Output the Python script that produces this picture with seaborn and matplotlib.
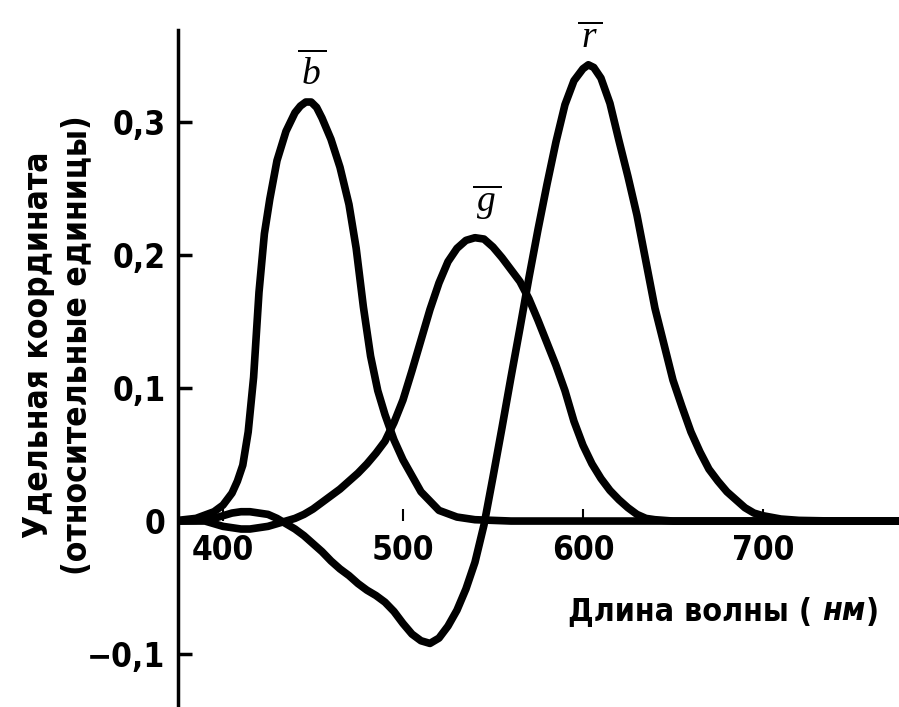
import numpy as np
import pandas as pd
import matplotlib
matplotlib.use('Agg')
import matplotlib.pyplot as plt
import seaborn as sns
from matplotlib.offsetbox import TextArea, HPacker, AnchoredOffsetbox

# values (wavelength in nm, relative units)
b_wl = [375, 385, 395, 400, 405, 408, 411, 414, 417, 420, 423, 426, 430, 435, 440, 443,
        446, 449, 452, 455, 460, 465, 470, 474, 478, 482, 486, 490, 495, 500, 505, 510,
        520, 530, 540, 560, 600, 700, 780]
b_val = [0.0005, 0.002, 0.007, 0.012, 0.021, 0.030, 0.042, 0.067, 0.108, 0.172, 0.216,
         0.242, 0.271, 0.293, 0.307, 0.312, 0.315, 0.315, 0.311, 0.303, 0.287, 0.266,
         0.238, 0.205, 0.161, 0.124, 0.098, 0.080, 0.061, 0.046, 0.034, 0.022, 0.008,
         0.003, 0.001, 0.0, 0.0, 0.0, 0.0]

g_wl = [375, 390, 395, 400, 405, 410, 415, 420, 425, 430, 435, 440, 445, 450, 455, 460,
        465, 470, 475, 480, 485, 490, 495, 500, 505, 510, 515, 520, 525, 530, 535, 540,
        545, 550, 555, 560, 565, 570, 575, 580, 585, 590, 595, 600, 605, 610, 615, 620,
        625, 630, 635, 640, 650, 700, 780]
g_val = [0.0, 0.0, -0.002, -0.004, -0.005, -0.006, -0.006, -0.005, -0.004, -0.002, 0.0,
         0.002, 0.005, 0.009, 0.014, 0.019, 0.024, 0.030, 0.036, 0.043, 0.051, 0.060,
         0.074, 0.091, 0.113, 0.136, 0.159, 0.179, 0.195, 0.205, 0.211, 0.213, 0.212,
         0.206, 0.198, 0.189, 0.180, 0.167, 0.151, 0.134, 0.117, 0.098, 0.075, 0.057,
         0.043, 0.032, 0.023, 0.016, 0.010, 0.005, 0.002, 0.001, 0.0, 0.0, 0.0]

r_wl = [375, 385, 395, 400, 405, 410, 415, 420, 425, 430, 435, 440, 445, 450, 455, 460,
        465, 470, 475, 480, 485, 490, 495, 500, 505, 510, 515, 520, 525, 530, 535, 540,
        545, 550, 555, 560, 565, 570, 575, 580, 585, 590, 595, 600, 603, 606, 610, 615,
        620, 625, 630, 635, 640, 645, 650, 655, 660, 665, 670, 675, 680, 685, 690, 695,
        700, 710, 720, 740, 780]
r_val = [0.0, 0.0005, 0.002, 0.004, 0.006, 0.007, 0.007, 0.006, 0.005, 0.002, -0.002,
         -0.006, -0.011, -0.017, -0.023, -0.030, -0.036, -0.041, -0.047, -0.052, -0.056,
         -0.061, -0.068, -0.077, -0.085, -0.090, -0.092, -0.088, -0.079, -0.067, -0.051,
         -0.031, -0.003, 0.033, 0.070, 0.108, 0.145, 0.183, 0.219, 0.253, 0.285, 0.313,
         0.331, 0.340, 0.343, 0.341, 0.333, 0.314, 0.286, 0.259, 0.230, 0.195, 0.160,
         0.133, 0.106, 0.086, 0.067, 0.052, 0.039, 0.030, 0.022, 0.016, 0.010, 0.006,
         0.004, 0.0015, 0.0005, 0.0, 0.0]

xticks = [400, 500, 600, 700]
xtick_labels = ['400', '500', '600', '700']
yticks = [-0.1, 0, 0.1, 0.2, 0.3]
ytick_labels = ['\u22120,1', '0', '0,1', '0,2', '0,3']

sns.set_theme(style='white')
plt.rcParams['font.family'] = ['Liberation Sans Narrow', 'DejaVu Sans']
plt.rcParams['font.stretch'] = 'condensed'
plt.rcParams['mathtext.fontset'] = 'custom'
plt.rcParams['mathtext.it'] = 'Liberation Serif:italic'
plt.rcParams['mathtext.rm'] = 'Liberation Serif'

fig = plt.figure(figsize=(8.99, 7.07), dpi=100)
ax = fig.add_axes([178 / 899, 0, 721 / 899, 1])

for wl, val in [(b_wl, b_val), (g_wl, g_val), (r_wl, r_val)]:
    sns.lineplot(x=wl, y=val, ax=ax, color='black', lw=5.5, estimator=None, sort=False,
                 solid_capstyle='round', solid_joinstyle='round')

ax.set_xlim(375, 775.6)
ax.set_ylim(-0.1398, 0.3917)

for s in ['top', 'right']:
    ax.spines[s].set_visible(False)
ax.spines['left'].set_linewidth(2.5)
ax.spines['left'].set_color('black')
ax.spines['left'].set_bounds(-0.14, 0.369)
ax.spines['bottom'].set_position(('data', 0))
ax.spines['bottom'].set_visible(False)

ax.set_xticks(xticks)
ax.set_xticklabels(xtick_labels)
ax.set_yticks(yticks)
ax.set_yticklabels(ytick_labels)
ax.tick_params(axis='x', direction='in', length=9, width=1.5, pad=9, labelsize=24,
               colors='black', bottom=True)
ax.tick_params(axis='y', direction='in', length=10, width=2.5, pad=9, labelsize=24,
               colors='black', left=True)
for lab in ax.get_xticklabels() + ax.get_yticklabels():
    lab.set_fontweight('bold')

ax.set_xlabel('')
ax.set_ylabel('')

# curve names
ax.text(449.5, 0.328, r'$\overline{\,b\,}$', ha='center', va='baseline', fontsize=27,
        color='black')
ax.text(546.5, 0.232, r'$\overline{\,g\,}$', ha='center', va='baseline', fontsize=27,
        color='black')
ax.text(604, 0.356, r'$\overline{\,r\,}$', ha='center', va='baseline', fontsize=27,
        color='black')

# y label, two lines
fig.text(58 / 899, 1 - 345 / 707, 'Удельная координата\n(относительные единицы)',
         rotation=90, ha='center', va='center', multialignment='center',
         fontsize=24, fontweight='bold', linespacing=1.2, color='black')

# x label with italic units
tp = dict(fontsize=23, fontweight='bold', color='black')
box = HPacker(children=[TextArea('Длина волны ( ', textprops=tp),
                        TextArea('нм', textprops=dict(tp, fontstyle='italic')),
                        TextArea(')', textprops=tp)],
              align='baseline', pad=0, sep=0)
anch = AnchoredOffsetbox(loc='center left', child=box, pad=0, borderpad=0, frameon=False,
                         bbox_to_anchor=(568 / 899, 1 - 612 / 707),
                         bbox_transform=fig.transFigure)
fig.add_artist(anch)

fig.savefig('out.png', dpi=100, facecolor='white')
